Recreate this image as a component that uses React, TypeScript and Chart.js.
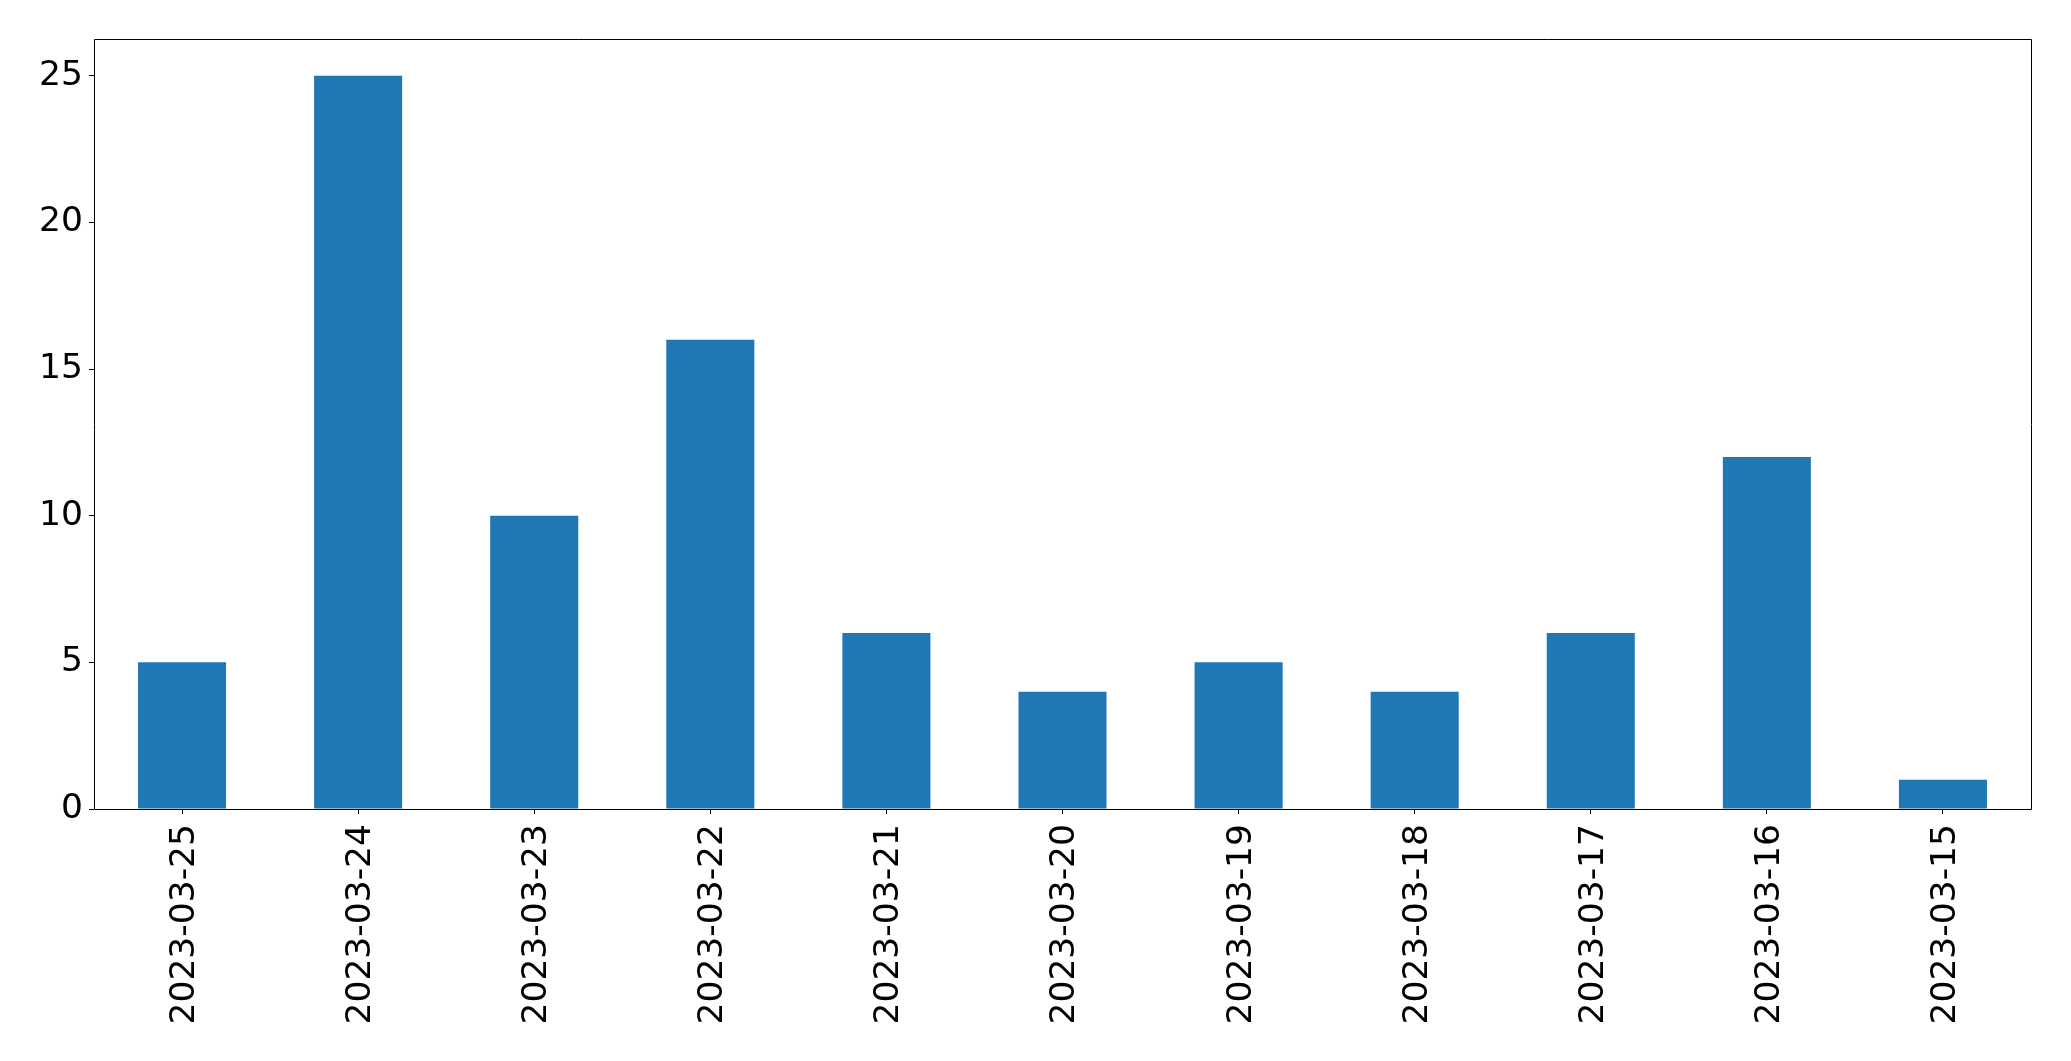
import React, { useEffect, useRef } from "react";
import { Chart, registerables } from "chart.js";

Chart.register(...registerables);

const categories = [
  "2023-03-25", "2023-03-24", "2023-03-23", "2023-03-22", "2023-03-21", "2023-03-20",
  "2023-03-19", "2023-03-18", "2023-03-17", "2023-03-16", "2023-03-15",
];
const values = [5, 25, 10, 16, 6, 4, 5, 4, 6, 12, 1];
const yTicks = [0, 5, 10, 15, 20, 25];

const W = 2071;
const H = 1061;
const LEFT = 94;
const RIGHT = 2031;
const TOP = 39;
const BOTTOM = 809;

const framePlugin = {
  id: "frame",
  afterDraw(chart: any) {
    const { ctx, chartArea } = chart;
    ctx.save();
    ctx.strokeStyle = "#000";
    ctx.lineWidth = 1;
    ctx.beginPath();
    ctx.rect(chartArea.left + 0.5, chartArea.top + 0.5, chartArea.right - chartArea.left, chartArea.bottom - chartArea.top);
    ctx.stroke();
    ctx.restore();
  },
};

export default function App() {
  const ref = useRef<HTMLCanvasElement | null>(null);
  useEffect(() => {
    document.body.style.margin = "0";
    const font = { family: "'DejaVu Sans', sans-serif", size: 34.5 };
    const chart = new Chart(ref.current!, {
      type: "bar",
      data: {
        labels: categories,
        datasets: [
          {
            data: values,
            backgroundColor: "#1f77b4",
            borderWidth: 0,
            categoryPercentage: 1,
            barPercentage: 0.5,
          },
        ],
      },
      options: {
        animation: false,
        responsive: false,
        devicePixelRatio: 1,
        layout: { padding: { top: TOP, right: W - RIGHT, left: 0, bottom: 0 } },
        plugins: { legend: { display: false }, tooltip: { enabled: false } },
        scales: {
          x: {
            offset: true,
            grid: { display: true, drawOnChartArea: false, offset: false, tickLength: 5, color: "#000", tickWidth: 1 },
            border: { display: false },
            ticks: { font, color: "#000", minRotation: 90, maxRotation: 90, padding: 10, labelOffset: 3, autoSkip: false },
            afterFit(scale: any) {
              scale.height = H - BOTTOM;
            },
          },
          y: {
            min: 0,
            max: 26.25,
            afterBuildTicks(scale: any) {
              scale.ticks = yTicks.map((v) => ({ value: v }));
            },
            grid: { display: true, drawOnChartArea: false, tickLength: 5, color: "#000", tickWidth: 1 },
            border: { display: false },
            ticks: { font, color: "#000", padding: 6 },
            afterFit(scale: any) {
              scale.width = LEFT;
            },
          },
        },
      },
      plugins: [framePlugin],
    });
    return () => chart.destroy();
  }, []);
  return (
    <canvas ref={ref} width={W} height={H} style={{ display: "block", width: W, height: H }} />
  );
}
